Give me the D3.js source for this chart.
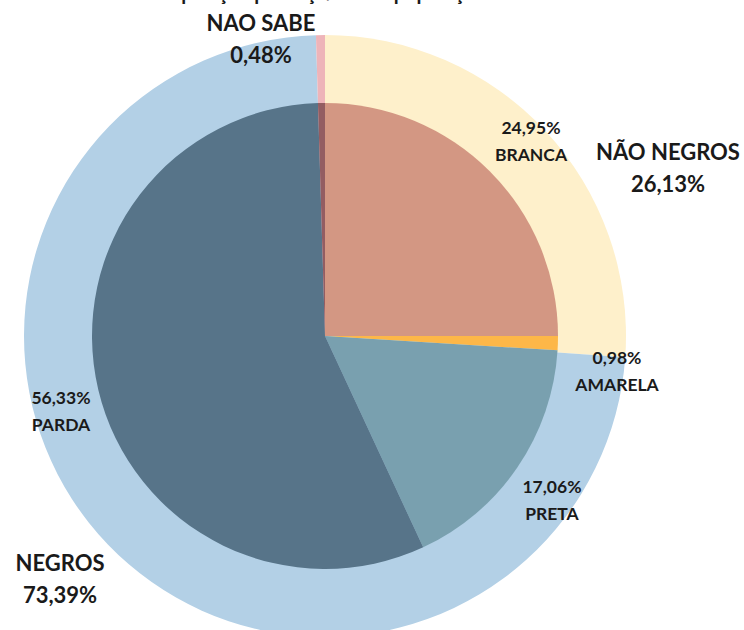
<!DOCTYPE html>
<html><head><meta charset="utf-8">
<script src="https://cdn.jsdelivr.net/npm/d3@7"></script>
<style>body{margin:0;background:#fff}svg{display:block}text{font-family:Lato,"Open Sans",sans-serif;font-weight:bold;fill:#1a1a1a}</style>
</head><body><svg id="c" width="744" height="630"></svg>
<script>
const outerCategories = ["NÃO NEGROS", "NEGROS", "NAO SABE"];
const outerValues = [26.13, 73.39, 0.48];
const outerLabels = ["26,13%", "73,39%", "0,48%"];
const innerCategories = ["BRANCA", "AMARELA", "PRETA", "PARDA", "NAO SABE"];
const innerValues = [24.95, 0.98, 17.06, 56.33, 0.48];
const innerLabels = ["24,95%", "0,98%", "17,06%", "56,33%", "0,48%"];
const titleText = "Composição por raça/cor da população";

const outerColors = ["#FEF0CB", "#B3D0E6", "#EEB4B9"];
const innerColors = ["#D39783", "#FDB748", "#79A0AF", "#577489", "#935D62"];

const svg = d3.select("#c");
const cx = 325, cy = 336, R = 301, r = 233;
const g = svg.append("g").attr("transform", `translate(${cx},${cy})`);
const pie = d3.pie().sort(null).value(d => d.v);

const outerData = pie(outerCategories.map((c, i) => ({c, v: outerValues[i], col: outerColors[i]})));
g.selectAll("path.o").data(outerData).join("path").attr("class", "o")
  .attr("d", d3.arc().innerRadius(0).outerRadius(R)).attr("fill", d => d.data.col);

const innerData = pie(innerCategories.map((c, i) => ({c, v: innerValues[i], col: innerColors[i]})));
g.selectAll("path.i").data(innerData).join("path").attr("class", "i")
  .attr("d", d3.arc().innerRadius(0).outerRadius(r)).attr("fill", d => d.data.col);

// title (cut at top in reference: only descenders visible)
svg.append("text").attr("x", 140).attr("y", 0).attr("font-size", 20).text(titleText);

function label(x, y, lines, size, gap) {
  const t = svg.append("text").attr("x", x).attr("y", y).attr("text-anchor", "middle").attr("font-size", size);
  lines.forEach((l, i) => t.append("tspan").attr("x", x).attr("dy", i === 0 ? 0 : gap).text(l));
}
// outer labels
label(261, 31, [outerCategories[2], outerLabels[2]], 22, 32);
label(668, 160, [outerCategories[0], outerLabels[0]], 22, 32);
label(60, 571, [outerCategories[1], outerLabels[1]], 22, 32);
// inner labels
label(531, 134, [innerLabels[0], innerCategories[0]], 17.5, 27);
label(617, 364, [innerLabels[1], innerCategories[1]], 17.5, 27);
label(552, 493, [innerLabels[2], innerCategories[2]], 17.5, 27);
label(61, 404, [innerLabels[3], innerCategories[3]], 17.5, 27);
</script></body></html>
